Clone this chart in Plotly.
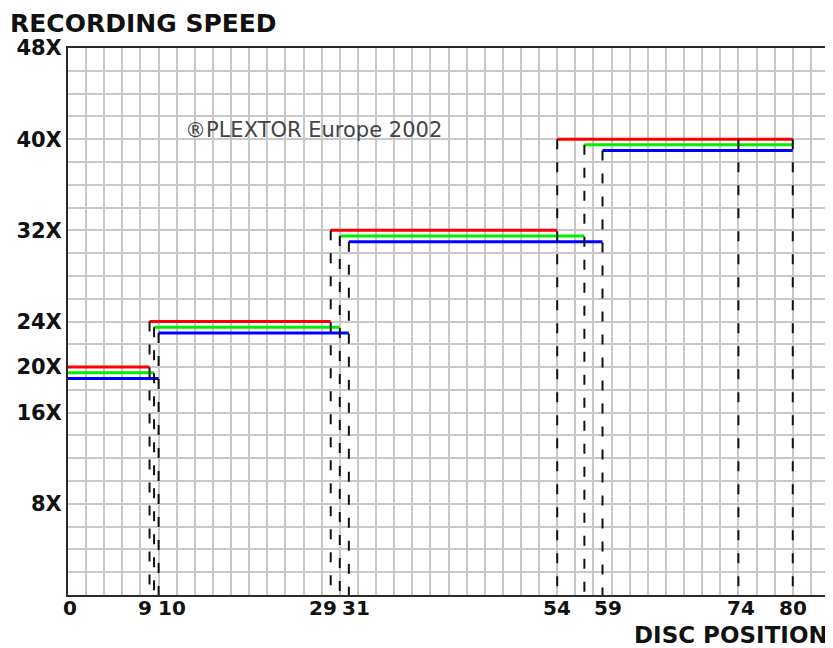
import plotly.graph_objects as go

# speed axis ticks (X = multiple of CD speed)
speed_ticks = [8, 16, 20, 24, 32, 40, 48]
speed_labels = ["8X", "16X", "20X", "24X", "32X", "40X", "48X"]

# disc position ticks (minutes)
pos_ticks = [0, 9, 10, 29, 31, 54, 59, 74, 80]
pos_labels = ["0", "9", "10", "29", "31", "54", "59", "74", "80"]

# step profiles: edges of each zone and the speed inside it
red_edges = [0, 9, 29, 54, 80]
red_speeds = [20, 24, 32, 40]
green_edges = [0, 9.5, 30, 57, 80]
green_speeds = [19.5, 23.5, 31.5, 39.5]
blue_edges = [0, 10, 31, 59, 80]
blue_speeds = [19, 23, 31, 39]

# extra dashed markers (74 and 80 minute discs)
disc_ends = [74, 80]
disc_end_speed = 40

GRID = "#c8c8c8"
FRAME = "#2a2a2a"
FONT = "DejaVu Sans"


def steps(edges, speeds):
    xs, ys = [], []
    for i, s in enumerate(speeds):
        xs += [edges[i], edges[i + 1], None]
        ys += [s, s, None]
    return xs, ys


def drops(edges, speeds):
    xs, ys = [], []
    for i in range(1, len(speeds)):
        xs += [edges[i], edges[i], None]
        ys += [speeds[i], 0, None]
    return xs, ys


fig = go.Figure()

for edges, speeds, color in [
    (red_edges, red_speeds, "#ff0000"),
    (green_edges, green_speeds, "#00ee00"),
    (blue_edges, blue_speeds, "#0000ff"),
]:
    x, y = steps(edges, speeds)
    fig.add_trace(go.Scatter(x=x, y=y, mode="lines",
                             line=dict(color=color, width=3)))

dx, dy = [], []
for edges, speeds in [(red_edges, red_speeds), (green_edges, green_speeds),
                      (blue_edges, blue_speeds)]:
    x, y = drops(edges, speeds)
    dx += x
    dy += y
for p in disc_ends:
    dx += [p, p, None]
    dy += [disc_end_speed, 0, None]
fig.add_trace(go.Scatter(x=dx, y=dy, mode="lines",
                         line=dict(color="#111111", width=2, dash="10px,13px")))

# x tick labels as annotations so that 9/10 and 29/31 sit side by side
label_place = {"0": ("center", 2), "9": ("right", 3), "10": ("left", -2),
               "29": ("right", 7), "31": ("left", -8), "54": ("center", 0),
               "59": ("center", 5), "74": ("center", 3), "80": ("center", 0)}
for v, t in zip(pos_ticks, pos_labels):
    anchor, shift = label_place[t]
    fig.add_annotation(x=v, y=0, xref="x", yref="paper", text=t,
                       showarrow=False, xanchor=anchor, yanchor="middle",
                       xshift=shift, yshift=-13, borderpad=0,
                       font=dict(family=FONT, size=20, color="#111", weight="bold"))

fig.add_annotation(x=12.7, y=40.8, xref="x", yref="y", text="®PLEXTOR Europe 2002",
                   showarrow=False, xanchor="left", yanchor="middle",
                   font=dict(family=FONT, size=21, color="#444"))

fig.add_annotation(x=1, y=-0.0724, xref="paper", yref="paper", text="DISC POSITION",
                   showarrow=False, xanchor="right", yanchor="middle", borderpad=0,
                   font=dict(family=FONT, size=23, color="#111", weight="bold"))

fig.add_annotation(x=-60 / 761, y=1 + 25 / 547, xref="paper", yref="paper",
                   text="RECORDING SPEED", showarrow=False,
                   xanchor="left", yanchor="middle",
                   font=dict(family=FONT, size=25, color="#111", weight="bold"))

# the page body adds an 8px margin, so the figure is 8px smaller each way
fig.update_layout(
    width=825,
    height=640,
    margin=dict(l=60, r=4, t=40, b=53, autoexpand=False),
    paper_bgcolor="white",
    plot_bgcolor="white",
    showlegend=False,
    xaxis=dict(range=[0, 84], tick0=0, dtick=2, showticklabels=False,
               automargin=False,
               showgrid=True, gridcolor=GRID, gridwidth=2, zeroline=False,
               showline=True, linecolor=FRAME, linewidth=2, mirror=True),
    yaxis=dict(range=[0, 48], tickmode="array", tickvals=speed_ticks,
               ticktext=speed_labels, automargin=False,
               tickfont=dict(family=FONT, size=21, color="#111", weight="bold"),
               showgrid=True, gridcolor=GRID, gridwidth=2, zeroline=False,
               minor=dict(tick0=0, dtick=2, showgrid=True, gridcolor=GRID, gridwidth=2),
               showline=True, linecolor=FRAME, linewidth=2, mirror=True),
)

fig.write_html("out.html")
